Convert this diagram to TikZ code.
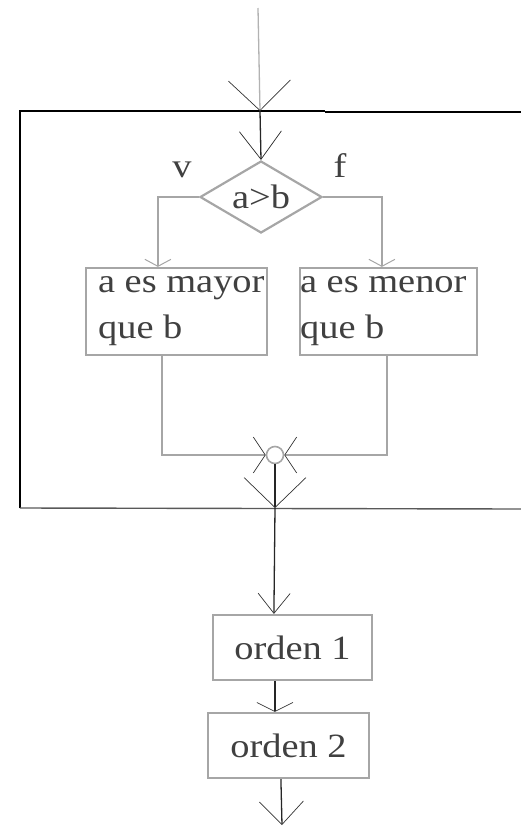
\documentclass[tikz,border=0pt]{standalone}
\usepackage{fontspec}
\setmainfont{Liberation Serif}[FakeStretch=1.13]
\usetikzlibrary{arrows.meta,shapes.geometric,calc}
\definecolor{boxgray}{HTML}{A6A6A6}
\definecolor{txtgray}{HTML}{404040}
\begin{document}
\begin{tikzpicture}[x=1pt,y=-1pt,
  gline/.style={draw=boxgray,line width=2.2pt},
  kline/.style={draw=black!85,line width=1.3pt},
  boxnode/.style={draw=boxgray,line width=2.2pt,rectangle,inner sep=0pt},
  txt/.style={text=txtgray,font=\fontsize{34}{46}\selectfont,inner sep=0pt,align=left},
  tipbig/.style={-{Straight Barb[length=30pt,width=62pt,color=black!80,line width=0.7pt]}},
  tipdia/.style={-{Straight Barb[length=28pt,width=42pt,color=black!85,line width=0.7pt]}},
  tipsmall/.style={-{Straight Barb[length=7pt,width=26pt,color=boxgray,line width=1pt]}},
  tipside/.style={-{Straight Barb[length=12pt,width=36pt,color=black!80,line width=0.7pt]}},
  tipo1/.style={-{Straight Barb[length=20pt,width=32pt,color=black!80,line width=0.7pt]}},
  tipo2/.style={-{Straight Barb[length=9pt,width=36pt,color=black!80,line width=0.7pt]}},
  tipend/.style={-{Straight Barb[length=23pt,width=44pt,color=black!80,line width=0.7pt]}}]
\useasboundingbox (0,0) rectangle (521,828);
% frame
\draw[black,line width=1.6pt] (325,111) -- (20,111) -- (20,508);
\draw[black,line width=1.6pt] (325,112) -- (521,112);
\draw[gray!70!black,line width=1.4pt] (20,508) -- (521,509);
% coordinates
\coordinate (start) at (258,8);
\coordinate (ft) at (260,111);
\coordinate (fb) at (275,508);
\coordinate (fin) at (282,825);
% nodes
\node[diamond,draw=boxgray,line width=2.2pt,aspect=1.7,minimum width=122pt,minimum height=72pt,inner sep=0pt] (D) at (261,197) {};
\node[txt] (Dt) at (D.center) {a>b};
\node[txt] (v) at (182,170) {v};
\node[txt] (f) at (340,166) {f};
\node[boxnode,minimum width=181pt,minimum height=87pt] (L) at (176.5,311.5) {};
\node[boxnode,minimum width=177pt,minimum height=87pt] (R) at (388.5,311.5) {};
\node[txt,anchor=base west] (Lt) at ($(L.north west)+(13,72)$) {a es mayor\\que b};
\node[txt,anchor=base west] (Rt) at ($(R.north west)+(1,72)$) {a es menor\\que b};
\node[circle,draw=boxgray,line width=1.6pt,minimum size=17pt,inner sep=0pt] (C) at (275,455) {};
\node[boxnode,minimum width=159pt,minimum height=65pt] (O1) at (292.5,647.5) {};
\node[txt] (O1t) at (O1.center) {orden 1};
\node[boxnode,minimum width=161pt,minimum height=65pt] (O2) at (288.5,745.5) {};
\node[txt] (O2t) at (O2.center) {orden 2};
% connectors
\draw[draw=gray!60,line width=1.3pt,tipbig] (start) -- (ft);
\draw[kline,tipdia] (ft) -- (D.north);
\draw[gline,tipsmall] (D.west) -| ([xshift=73pt]L.north west);
\draw[gline,tipsmall] (D.east) -| ([xshift=83pt]R.north west);
\draw[gline,tipside] ([xshift=77pt]L.south west) |- (C.west);
\draw[gline,tipside] ([xshift=88pt]R.south west) |- (C.east);
\draw[kline,tipbig] (C.south) -- (fb);
\draw[kline,tipo1] (fb) -- ([xshift=62pt]O1.north west);
\draw[kline,tipo2] ([xshift=63pt]O1.south west) -- ([xshift=68pt]O2.north west);
\draw[kline,tipend] ([xshift=74pt]O2.south west) -- (fin);
\end{tikzpicture}
\end{document}
